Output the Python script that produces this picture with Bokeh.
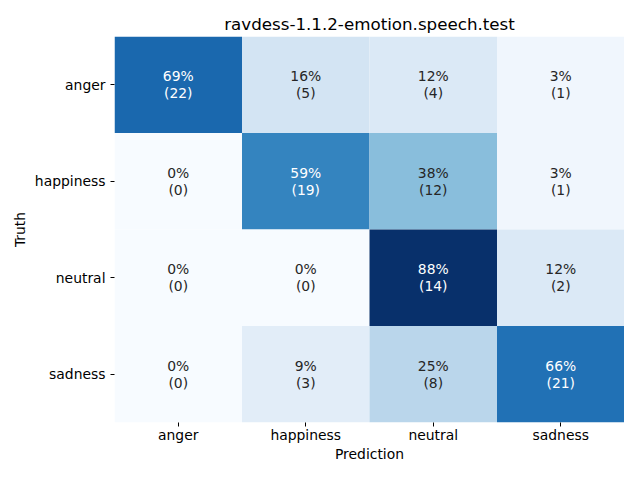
from bokeh.plotting import figure
from bokeh.models import ColumnDataSource, FactorRange
from bokeh.core.properties import value
from bokeh.palettes import Blues256
from bokeh.embed import file_html
from bokeh.resources import INLINE

labels = ["anger", "happiness", "neutral", "sadness"]
counts_anger = [22, 5, 4, 1]
counts_happiness = [0, 19, 12, 1]
counts_neutral = [0, 0, 14, 2]
counts_sadness = [0, 3, 8, 21]
rows = [counts_anger, counts_happiness, counts_neutral, counts_sadness]

xs, ys, pcts, txts = [], [], [], []
for truth, row in zip(labels, rows):
    tot = sum(row)
    for pred, c in zip(labels, row):
        pct = c / tot
        xs.append(pred)
        ys.append(truth)
        pcts.append(pct)
        txts.append(f"{pct:.0%}\n({c})")

pal = list(Blues256[::-1])  # light -> dark
vmin, vmax = min(pcts), max(pcts)

def to_color(v):
    i = int(round((v - vmin) / (vmax - vmin) * (len(pal) - 1)))
    return pal[i]

def lum(h):
    r, g, b = [int(h[k:k + 2], 16) / 255 for k in (1, 3, 5)]
    def f(c):
        return c / 12.92 if c <= 0.03928 else ((c + 0.055) / 1.055) ** 2.4
    return 0.2126 * f(r) + 0.7152 * f(g) + 0.0722 * f(b)

fills = [to_color(v) for v in pcts]
tcols = ["#262626" if lum(h) > 0.408 else "#ffffff" for h in fills]

src = ColumnDataSource(dict(x=xs, y=ys, fill=fills, tcol=tcols, txt=txts))

p = figure(width=624, height=464, output_backend="svg", toolbar_location=None,
           x_range=FactorRange(*labels), y_range=FactorRange(*labels[::-1]),
           title="ravdess-1.1.2-emotion.speech.test")
p.min_border_left = 114
p.min_border_right = 0
p.min_border_bottom = 10
p.min_border_top = 36

p.rect(x="x", y="y", width=1, height=1, fill_color="fill", line_color=None, source=src)
p.text(x="x", y="y", text="txt", text_color="tcol", text_align="center",
       text_baseline="middle", text_font=value("DejaVu Sans"),
       text_font_size="13.9px", text_line_height=1.05, source=src)

p.title.align = "center"
p.title.text_font = "DejaVu Sans"
p.title.text_font_size = "16.7px"
p.title.text_font_style = "normal"
p.title.text_color = "#000000"
p.title.standoff = 5

for ax in (p.xaxis[0], p.yaxis[0]):
    ax.axis_line_color = None
    ax.major_tick_out = 4
    ax.major_tick_in = 0
    ax.major_tick_line_color = "#000000"
    ax.minor_tick_line_color = None
    ax.major_label_text_font = "DejaVu Sans"
    ax.major_label_text_font_size = "13.9px"
    ax.major_label_text_color = "#000000"
    ax.axis_label_text_font = "DejaVu Sans"
    ax.axis_label_text_font_size = "13.9px"
    ax.axis_label_text_font_style = "normal"
    ax.axis_label_text_color = "#000000"

p.xaxis.major_label_standoff = 0
p.xaxis.axis_label_standoff = 0
p.yaxis.major_label_standoff = 5
p.yaxis.axis_label_standoff = 4

p.xaxis.axis_label = "Prediction"
p.yaxis.axis_label = "Truth"
p.yaxis.major_label_orientation = "horizontal"

p.grid.grid_line_color = None
p.outline_line_color = None
p.background_fill_color = "#ffffff"
p.border_fill_color = "#ffffff"

open("out.html", "w").write(file_html(p, INLINE))
